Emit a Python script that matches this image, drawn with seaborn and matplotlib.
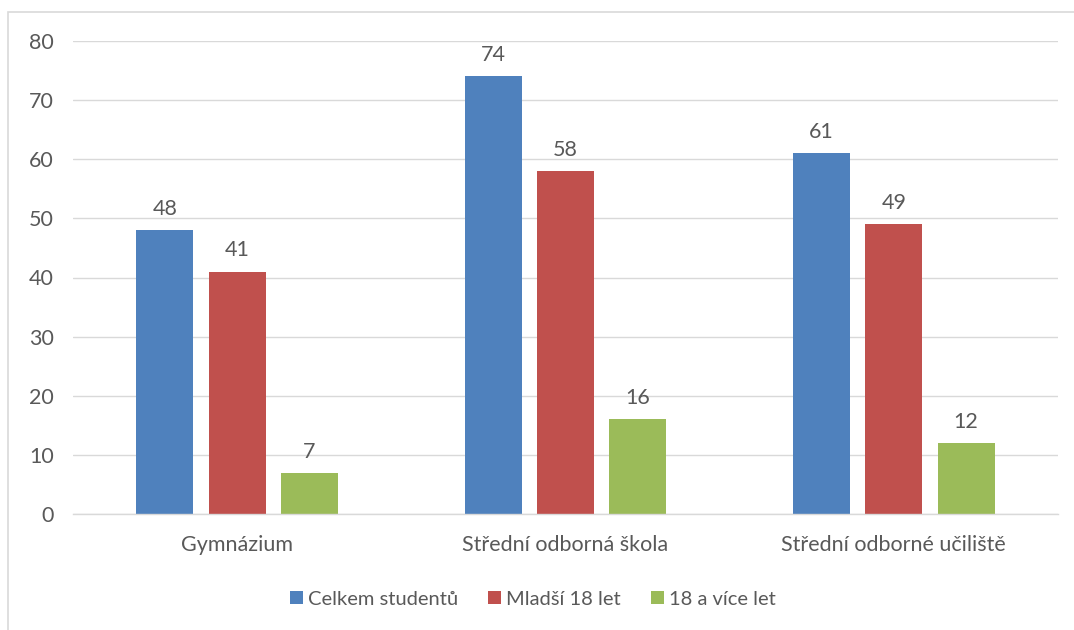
import matplotlib
matplotlib.use("Agg")
import matplotlib.pyplot as plt
import seaborn as sns
import pandas as pd
from matplotlib.patches import Rectangle

categories = ["Gymnázium", "Střední odborná škola", "Střední odborné učiliště"]
series_names = ["Celkem studentů", "Mladší 18 let", "18 a více let"]
celkem = [48, 74, 61]
mladsi = [41, 58, 49]
starsi = [7, 16, 12]
yticks = [0, 10, 20, 30, 40, 50, 60, 70, 80]
colors = ["#4F81BD", "#C0504D", "#9BBB59"]

rows = []
for name, vals in zip(series_names, [celkem, mladsi, starsi]):
    for c, v in zip(categories, vals):
        rows.append({"kat": c, "serie": name, "hodnota": v})
df = pd.DataFrame(rows)

sns.set_theme(style="white")
plt.rcParams["font.family"] = ["Lato", "DejaVu Sans"]
txt = "#595959"
fs = 15.5

fig = plt.figure(figsize=(10.74, 6.3), dpi=100)
ax = fig.add_axes([73/1074, 1-514/630, (1058-73)/1074, (514-41)/630])

sns.barplot(data=df, x="kat", y="hodnota", hue="serie", order=categories,
            hue_order=series_names, palette=colors, width=0.66, gap=0.21,
            saturation=1, linewidth=0, ax=ax, legend=True)

ax.set_ylim(0, 80)
ax.set_xlim(-0.5, 2.5)
ax.set_yticks(yticks)
ax.yaxis.grid(True, color="#D9D9D9", linewidth=1)
ax.set_axisbelow(True)
for s in ["top", "right", "left"]:
    ax.spines[s].set_visible(False)
ax.spines["bottom"].set_color("#D9D9D9")
ax.spines["bottom"].set_linewidth(1)
ax.set_xlabel("")
ax.set_ylabel("")
ax.tick_params(axis="y", length=0, pad=14, labelsize=fs, labelcolor=txt)
ax.tick_params(axis="x", length=0, pad=15, labelsize=fs, labelcolor=txt)

for cont in ax.containers:
    ax.bar_label(cont, fmt="%g", padding=8, fontsize=fs, color=txt)

leg = ax.legend(loc="center", bbox_to_anchor=(0.467, -0.18), ncol=3, frameon=False,
                fontsize=14.5, handlelength=0.65, handleheight=0.65, handletextpad=0.25,
                columnspacing=1.5)
for t in leg.get_texts():
    t.set_color(txt)

fig.patches.append(Rectangle((8/1074, -0.1), 1.2, 1 - 12/630 + 0.1, transform=fig.transFigure,
                             fill=False, edgecolor="#D9D9D9", linewidth=1.2))

fig.savefig("out.png", dpi=100)
